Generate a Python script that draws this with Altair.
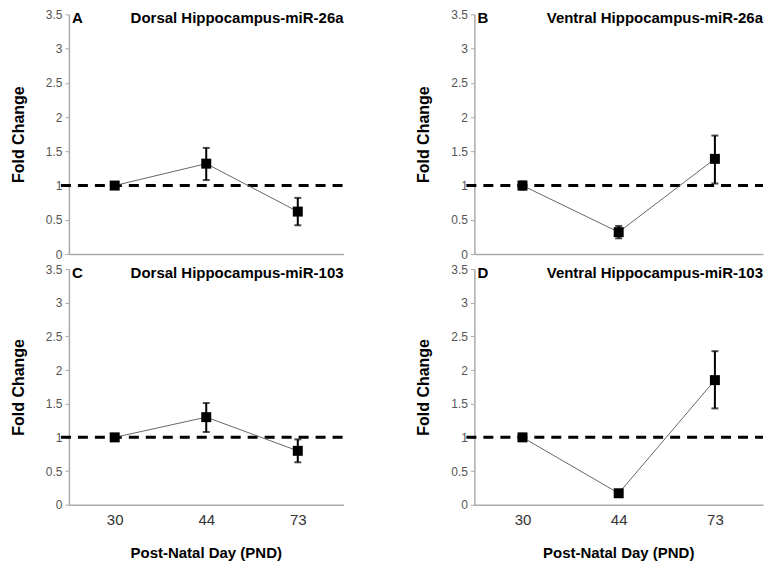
import altair as alt
import pandas as pd

days = ["30", "44", "73"]

panel_letters = ["A", "B", "C", "D"]
panel_titles = [
    "Dorsal Hippocampus-miR-26a",
    "Ventral Hippocampus-miR-26a",
    "Dorsal Hippocampus-miR-103",
    "Ventral Hippocampus-miR-103",
]
means_A = [1.00, 1.32, 0.62]
low_A = [0.98, 1.08, 0.42]
high_A = [1.02, 1.55, 0.82]

means_B = [1.00, 0.32, 1.39]
low_B = [0.94, 0.23, 1.03]
high_B = [1.06, 0.41, 1.73]

means_C = [1.00, 1.30, 0.80]
low_C = [0.98, 1.08, 0.63]
high_C = [1.02, 1.51, 0.97]

means_D = [1.00, 0.17, 1.85]
low_D = [0.96, 0.15, 1.43]
high_D = [1.05, 0.19, 2.28]

y_ticks = [0, 0.5, 1, 1.5, 2, 2.5, 3, 3.5]
baseline = [1.0]

FONT = "Liberation Sans"


def panel(letter, title, means, lows, highs, width, height, bottom):
    df = pd.DataFrame({"day": days, "mean": means, "lo": lows, "hi": highs})
    if bottom:
        xaxis = alt.Axis(title=None, labelFontSize=15, labelColor="#333333",
                         labelPadding=8, ticks=False, domainColor="#aaaaaa",
                         domainWidth=1.5, labelAngle=0, labelFont=FONT)
    else:
        xaxis = alt.Axis(title=None, labels=False, ticks=False,
                         domainColor="#aaaaaa", domainWidth=1.5)
    x = alt.X("day:N", sort=days, axis=xaxis,
              scale=alt.Scale(type="point", padding=0.5))
    yscale = alt.Scale(domain=[0, 3.5], nice=False, zero=True)
    yaxis = alt.Axis(title="Fold Change", values=y_ticks, format="~g",
                     titleFontSize=16, labelOverlap=False,
                     titleFont=FONT, titleFontWeight="bold", titleColor="#000000",
                     titlePadding=19, labelFontSize=12, labelColor="#555555",
                     labelFont=FONT, tickSize=4, tickColor="#aaaaaa",
                     domainColor="#aaaaaa", domainWidth=1.5, grid=False,
                     labelPadding=3)

    def Y(field):
        return alt.Y(field, scale=yscale, axis=yaxis)

    base = alt.Chart(df)
    line = base.mark_line(color="#666666", strokeWidth=1).encode(
        x=x, y=Y("mean:Q"))
    bars = base.mark_rule(color="#000000", strokeWidth=2).encode(
        x=x, y=Y("lo:Q"), y2="hi:Q")
    cap_lo = base.mark_tick(color="#000000", thickness=2, size=7,
                            orient="horizontal").encode(x=x, y=Y("lo:Q"))
    cap_hi = base.mark_tick(color="#000000", thickness=2, size=7,
                            orient="horizontal").encode(x=x, y=Y("hi:Q"))
    pts = base.mark_point(shape="square", filled=True, size=100,
                          color="#000000", opacity=1).encode(
        x=x, y=Y("mean:Q"))
    ref = alt.Chart(pd.DataFrame({"v": baseline})).mark_rule(
        color="#000000", strokeWidth=3, strokeDash=[10, 7]).encode(
        y=Y("v:Q"), x=alt.value(-8), x2=alt.value(width))
    lab = alt.Chart(pd.DataFrame({"t": [letter]})).mark_text(
        align="left", baseline="top", fontSize=15, fontWeight="bold",
        font=FONT, color="#000000").encode(
        text="t:N", x=alt.value(3), y=alt.value(-3))
    ttl = alt.Chart(pd.DataFrame({"t": [title]})).mark_text(
        align="right", baseline="top", fontSize=15, fontWeight="bold",
        font=FONT, color="#000000").encode(
        text="t:N", x=alt.value(width), y=alt.value(-3))
    layers = [ref, line, bars, cap_lo, cap_hi, pts, lab, ttl]
    if bottom:
        xt = alt.Chart(pd.DataFrame({"t": ["Post-Natal Day (PND)"]})).mark_text(
            align="center", baseline="middle", fontSize=15, fontWeight="bold",
            font=FONT, color="#000000").encode(
            text="t:N", x=alt.value(width / 2), y=alt.value(height + 48))
        layers.append(xt)
    return alt.layer(*layers).properties(width=width, height=height)


pA = panel("A", panel_titles[0], means_A, low_A, high_A, 275, 240, False)
pB = panel("B", panel_titles[1], means_B, low_B, high_B, 289, 240, False)
pC = panel("C", panel_titles[2], means_C, low_C, high_C, 275, 236, True)
pD = panel("D", panel_titles[3], means_D, low_D, high_D, 289, 236, True)

chart = alt.concat(pA, pB, pC, pD, columns=2,
                   spacing={"column": 131, "row": 15},
                   bounds="flush").properties(
    padding={"top": 0, "left": 2, "right": 0, "bottom": 0},
    background="white",
).configure_view(stroke=None)

chart.save("out.html", embed_options={"renderer": "svg", "actions": False})
